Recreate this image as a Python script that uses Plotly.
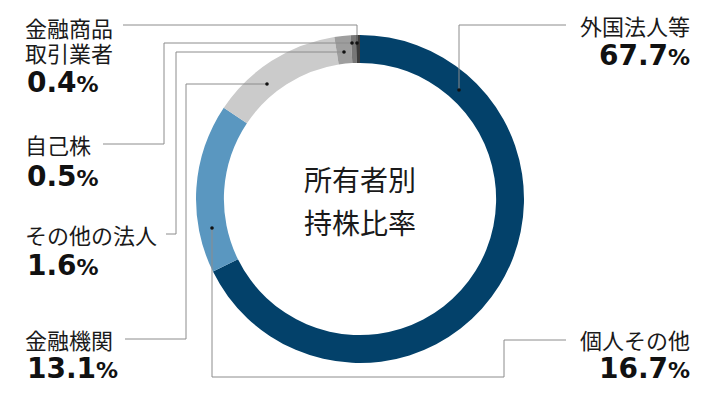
"""Donut chart: shareholding ratio by owner type (所有者別持株比率)."""

import plotly.graph_objects as go

# data
categories = ["外国法人等", "個人その他", "金融機関", "その他の法人", "自己株", "金融商品取引業者"]
shares = [67.7, 16.7, 13.1, 1.6, 0.5, 0.4]
slice_colors = ["#03416a", "#5a97c0", "#cbcbcb", "#9e9e9e", "#777777", "#3c3c3c"]

# label text blocks (lines of the category name) and where they sit (pixels)
label_lines = [["外国法人等"], ["個人その他"], ["金融機関"], ["その他の法人"], ["自己株"], ["金融商品", "取引業者"]]
label_pos = [
    dict(x=692, y=[25], vy=55, anchor="right"),
    dict(x=692, y=[339], vy=368, anchor="right"),
    dict(x=23, y=[339], vy=368, anchor="left"),
    dict(x=23, y=[234], vy=265, anchor="left"),
    dict(x=23, y=[144], vy=176, anchor="left"),
    dict(x=23, y=[27, 52], vy=82, anchor="left"),
]
# leader lines, ending at the dot on the ring
leader_paths = [
    [(566, 25), (459, 25), (459, 90)],
    [(566, 340), (504, 340), (504, 377), (212, 377), (212, 228)],
    [(125, 339), (186, 339), (186, 84), (267, 84)],
    [(166, 234), (176, 234), (176, 52), (344, 52)],
    [(103, 144), (164, 144), (164, 43), (352, 43)],
    [(123, 25), (357, 25), (357, 43)],
]

W, H = 720, 400
cx, cy, r = 360, 199, 164

fig = go.Figure()

fig.add_trace(
    go.Pie(
        labels=categories,
        values=shares,
        sort=False,
        direction="clockwise",
        rotation=0,
        hole=0.83,
        marker=dict(colors=slice_colors, line=dict(width=0)),
        textinfo="none",
        hoverinfo="label+percent",
        showlegend=False,
        domain=dict(x=[(cx - r) / W, (cx + r) / W], y=[(H - cy - r) / H, (H - cy + r) / H]),
    )
)

# invisible pixel axes for leader lines
fig.add_trace(go.Scatter(x=[0, W], y=[0, H], mode="markers", marker=dict(opacity=0),
                         hoverinfo="skip", showlegend=False))

shapes = []
for path in leader_paths:
    for (x0, y0), (x1, y1) in zip(path[:-1], path[1:]):
        shapes.append(dict(type="line", xref="x", yref="y", x0=x0, y0=y0, x1=x1, y1=y1,
                           line=dict(color="#8c8c8c", width=1), layer="above"))
    dx, dy = path[-1]
    shapes.append(dict(type="circle", xref="x", yref="y", x0=dx - 1.8, x1=dx + 1.8,
                       y0=dy - 1.8, y1=dy + 1.8, fillcolor="#111111",
                       line=dict(width=0), layer="above"))

annotations = []
for name_lines, val, pos in zip(label_lines, shares, label_pos):
    for txt, ty in zip(name_lines, pos["y"]):
        annotations.append(dict(
            x=pos["x"], y=ty, xref="x", yref="y", text=txt, showarrow=False,
            xanchor=pos["anchor"], yanchor="middle",
            font=dict(family="Noto Sans CJK JP", size=22, color="#1a1a1a"),
        ))
    annotations.append(dict(
        x=pos["x"] + (2 if pos["anchor"] == "left" else 0), y=pos["vy"], xref="x", yref="y",
        text=f"{val:.1f}<span style='font-size:22px'>%</span>",
        showarrow=False, xanchor=pos["anchor"], yanchor="middle",
        font=dict(family="DejaVu Sans", size=28, color="#111111", weight="bold"),
    ))

for txt, ty in [("所有者別", 179), ("持株比率", 222)]:
    annotations.append(dict(
        x=cx, y=ty, xref="x", yref="y", text=txt, showarrow=False,
        xanchor="center", yanchor="middle",
        font=dict(family="Noto Sans CJK JP", size=28, color="#1a1a1a"),
    ))

fig.update_layout(
    width=W,
    height=H,
    margin=dict(l=0, r=0, t=0, b=0),
    paper_bgcolor="white",
    plot_bgcolor="rgba(0,0,0,0)",
    xaxis=dict(range=[0, W], visible=False, fixedrange=True, domain=[0, 1]),
    yaxis=dict(range=[H, 0], visible=False, fixedrange=True, domain=[0, 1]),
    shapes=shapes,
    annotations=annotations,
    showlegend=False,
)

# drop the default page margin so the 720x400 figure sits at the window corner
fig.write_html("out.html", config={"displayModeBar": False},
               post_script="document.body.style.margin='0';")
